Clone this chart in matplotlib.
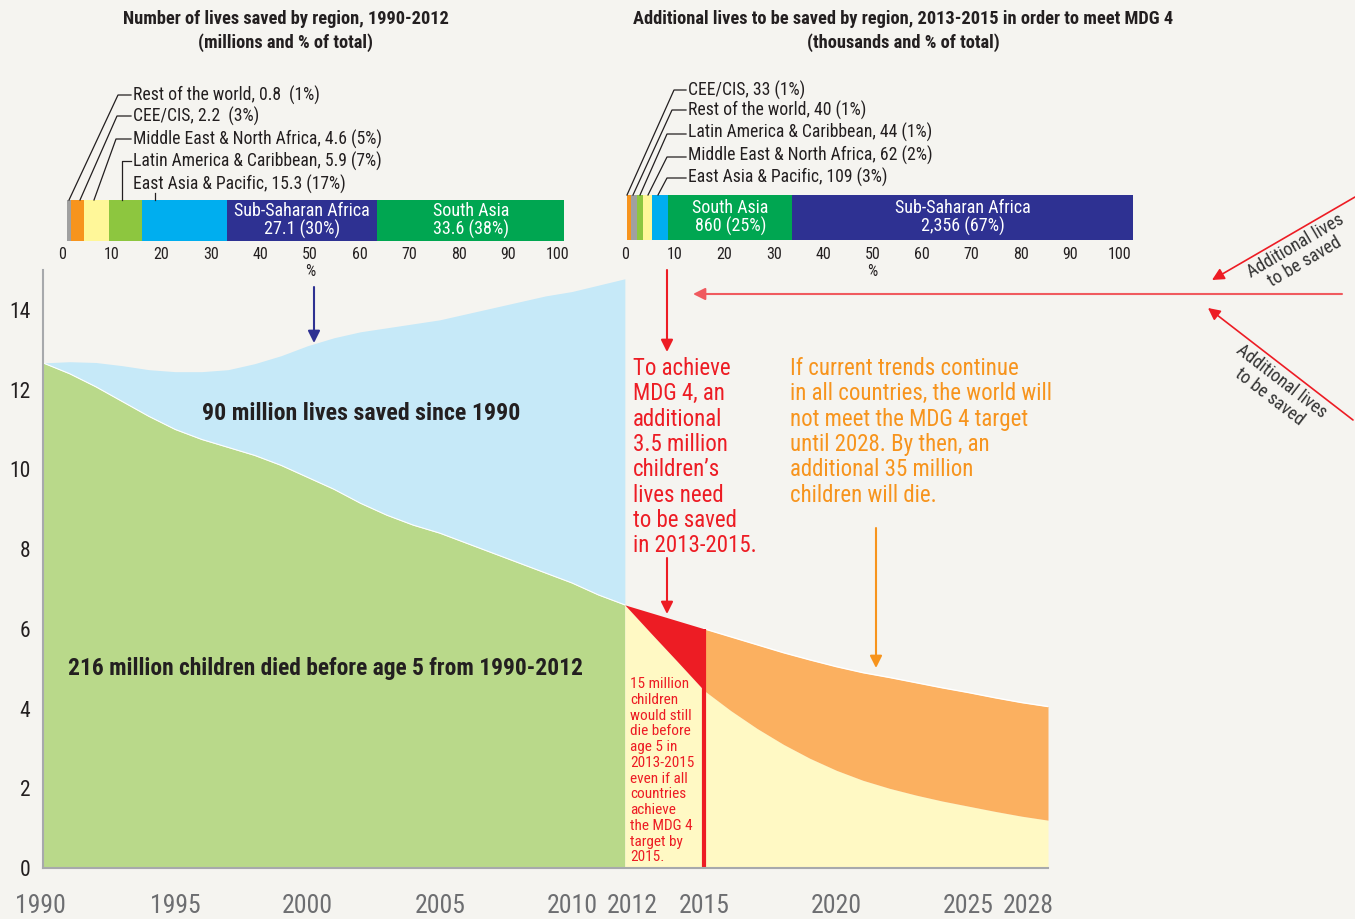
import matplotlib
matplotlib.use('Agg')
import matplotlib.pyplot as plt
from matplotlib import font_manager as fm
from matplotlib.transforms import ScaledTranslation
import numpy as np

# pick a condensed face if one is around, the original uses a condensed grotesque
fonts = fm.fontManager.ttflist
fam_names = {f.name for f in fonts}
family, stretch, fs = 'DejaVu Sans', 'normal', 0.8
for cand in ['Roboto Condensed', 'Liberation Sans Narrow', 'Noto Sans Condensed', 'Open Sans Condensed']:
    if cand in fam_names:
        family, stretch, fs = cand, 'normal', 1.0
        break
else:
    for cand in ['DejaVu Sans', 'Noto Sans', 'Open Sans', 'Roboto']:
        if any(f.name == cand and str(f.stretch) in ('condensed', 'semi-condensed', 'extra-condensed')
               for f in fonts):
            family, stretch, fs = cand, 'condensed', 1.0
            break
plt.rcParams['font.family'] = [family, 'DejaVu Sans']
plt.rcParams['font.stretch'] = stretch

# ---- data ----
years_hist = np.arange(1990, 2013)
deaths_hist = [12.67, 12.4, 12.07, 11.7, 11.33, 11.0, 10.75, 10.55, 10.35, 10.1, 9.8,
               9.5, 9.15, 8.85, 8.6, 8.4, 8.15, 7.9, 7.65, 7.4, 7.15, 6.85, 6.6]
deaths_1990_rates = [12.67, 12.7, 12.68, 12.6, 12.5, 12.45, 12.45, 12.5, 12.65, 12.85, 13.1,
                     13.3, 13.45, 13.55, 13.65, 13.75, 13.9, 14.05, 14.2, 14.35, 14.46, 14.62, 14.78]
years_proj = np.arange(2012, 2029)
trend_proj = [6.6, 6.4, 6.2, 6.0, 5.8, 5.6, 5.4, 5.22, 5.05, 4.9, 4.78, 4.65, 4.52,
              4.4, 4.27, 4.15, 4.05]
mdg4_proj = [6.6, 5.88, 5.17, 4.45, 3.95, 3.5, 3.1, 2.75, 2.45, 2.2, 2.0, 1.83, 1.68,
             1.55, 1.42, 1.3, 1.2]

saved_regions = ['Rest of the world', 'CEE/CIS', 'Middle East & North Africa',
                 'Latin America & Caribbean', 'East Asia & Pacific',
                 'Sub-Saharan Africa', 'South Asia']
saved_millions = [0.8, 2.2, 4.6, 5.9, 15.3, 27.1, 33.6]
saved_pct = [1, 3, 5, 7, 17, 30, 38]

add_regions = ['CEE/CIS', 'Rest of the world', 'Latin America & Caribbean',
               'Middle East & North Africa', 'East Asia & Pacific',
               'South Asia', 'Sub-Saharan Africa']
add_thousands = [33, 40, 44, 62, 109, 860, 2356]
add_pct = [1, 1, 1, 2, 3, 25, 67]

region_colors = {
    'Rest of the world': '#a0a0a0',
    'CEE/CIS': '#f7941d',
    'Middle East & North Africa': '#fff799',
    'Latin America & Caribbean': '#8dc63f',
    'East Asia & Pacific': '#00aeef',
    'Sub-Saharan Africa': '#2e3192',
    'South Asia': '#00a651',
}

BG = '#f5f4f0'
DARK = '#231f20'
RED = '#ed1c24'
ORANGE = '#f7941d'
W, H = 1355, 919

fig = plt.figure(figsize=(W / 100, H / 100), dpi=100, facecolor=BG)


def px_axes(x0, y0, x1, y1):
    # axes rectangle given in pixel coords (top-left origin)
    return fig.add_axes([x0 / W, 1 - y1 / H, (x1 - x0) / W, (y1 - y0) / H])


# ---- main area chart ----
ax = px_axes(43, 270, 1048, 868)
ax.set_facecolor(BG)
yh = np.array(years_hist)
yp = np.array(years_proj)
trend = np.array(trend_proj)
target = np.array(mdg4_proj)

ax.fill_between(yh, 0, deaths_hist, color='#b9d98a', lw=0)
ax.fill_between(yh, deaths_hist, deaths_1990_rates, color='#c6e9f8', lw=0)
ax.plot(yh, deaths_hist, color='white', lw=0.8)
ax.fill_between(yp, 0, target, color='#fff9c4', lw=0)
m1 = yp <= 2015
ax.fill_between(yp[m1], target[m1], trend[m1], color=RED, lw=0)
m2 = yp >= 2015
ax.fill_between(yp[m2], target[m2], trend[m2], color='#fbb060', lw=0)
ax.plot(yp[m2], trend[m2], color='white', lw=1)
ax.vlines(2015, 0, trend[yp == 2015][0], color=RED, lw=3)

ax.set_xlim(1990, 2028)
ax.set_ylim(0, 15)
xt = [1990, 1995, 2000, 2005, 2010, 2012, 2015, 2020, 2025, 2028]
ax.set_xticks(xt)
ax.set_xticklabels([str(v) for v in xt])
ax.set_yticks(range(0, 15, 2))
ax.tick_params(axis='x', length=0, pad=19, labelsize=18.5 * fs, labelcolor='#6d6e71')
ax.tick_params(axis='y', length=0, pad=9, labelsize=15.5 * fs, labelcolor=DARK)
shifts = {1990: -3, 2012: 7, 2028: -20}
for v, lab in zip(xt, ax.get_xticklabels()):
    if v in shifts:
        lab.set_transform(lab.get_transform() + ScaledTranslation(shifts[v] / 100, 0, fig.dpi_scale_trans))
for s in ['top', 'right']:
    ax.spines[s].set_visible(False)
for s in ['left', 'bottom']:
    ax.spines[s].set_color('#a7a9ac')
    ax.spines[s].set_linewidth(1.5)


# ---- stacked 100% bars ----
def region_bar(box, regions, values, labels_in):
    bx = px_axes(*box)
    vals = np.array(values, dtype=float)
    pct = vals / vals.sum() * 100
    starts = np.concatenate([[0], np.cumsum(pct)[:-1]])
    bx.barh(0, pct, left=starts, height=1, color=[region_colors[r] for r in regions], lw=0)
    for r, txt in labels_in.items():
        i = regions.index(r)
        bx.text(starts[i] + pct[i] / 2, 0, txt, ha='center', va='center', color='white',
                fontsize=13 * fs, linespacing=1.05)
    bx.set_xlim(0, 100)
    bx.set_ylim(-0.5, 0.5)
    bx.axis('off')
    return bx


def pct_ticks(x0, x1, y):
    tx = px_axes(x0, y, x1, y + 1)
    tx.set_xlim(0, 100)
    tx.set_xticks(range(0, 101, 10))
    tx.tick_params(axis='x', length=0, pad=0, labelsize=11.5 * fs, labelcolor=DARK)
    tx.set_yticks([])
    for s in tx.spines.values():
        s.set_visible(False)
    tx.patch.set_alpha(0)
    tx.text(50, -17, '%', transform=tx.get_xaxis_transform(), ha='center', va='top',
            fontsize=11.5 * fs, color=DARK)


region_bar((67, 200, 564, 241), saved_regions, saved_millions,
           {'Sub-Saharan Africa': 'Sub-Saharan Africa\n27.1 (30%)',
            'South Asia': 'South Asia\n33.6 (38%)'})
pct_ticks(62.5, 557.5, 246)
region_bar((626.5, 195, 1133, 240), add_regions, add_thousands,
           {'South Asia': 'South Asia\n860 (25%)',
            'Sub-Saharan Africa': 'Sub-Saharan Africa\n2,356 (67%)'})
pct_ticks(625.5, 1120, 246)

# ---- overlay for annotations (pixel coords) ----
ov = fig.add_axes([0, 0, 1, 1])
ov.set_xlim(0, W)
ov.set_ylim(H, 0)
ov.axis('off')
ov.patch.set_alpha(0)

ov.text(286, 31, 'Number of lives saved by region, 1990-2012\n(millions and % of total)',
        ha='center', va='center', fontsize=13.2 * fs, fontweight='bold', color=DARK, linespacing=1.3)
ov.text(903, 31, 'Additional lives to be saved by region, 2013-2015 in order to meet MDG 4\n(thousands and % of total)',
        ha='center', va='center', fontsize=13.2 * fs, fontweight='bold', color=DARK, linespacing=1.3)

# leader labels, left bar
left_leaders = [
    ('Rest of the world, 0.8  (1%)', 95, [(131, 95), (118, 95), (69, 200)]),
    ('CEE/CIS, 2.2  (3%)', 116, [(131, 116), (117, 116), (80, 200)]),
    ('Middle East & North Africa, 4.6 (5%)', 139, [(131, 139), (116, 139), (94, 200)]),
    ('Latin America & Caribbean, 5.9 (7%)', 161, [(131, 161), (122, 161), (122, 200)]),
    ('East Asia & Pacific, 15.3 (17%)', 184, [(155, 193), (155, 200)]),
]
for txt, y, pts in left_leaders:
    ov.text(133, y, txt, ha='left', va='center', fontsize=12.7 * fs, color=DARK)
    xs, ys = zip(*pts)
    ov.plot(xs, ys, color=DARK, lw=0.9)

right_leaders = [
    ('CEE/CIS, 33 (1%)', 90, [(686, 90), (674, 90), (627, 195)]),
    ('Rest of the world, 40 (1%)', 110, [(686, 110), (672, 110), (633, 195)]),
    ('Latin America & Caribbean, 44 (1%)', 132, [(686, 134), (667, 134), (640, 195)]),
    ('Middle East & North Africa, 62 (2%)', 155, [(686, 157), (667, 157), (648, 195)]),
    ('East Asia & Pacific, 109 (3%)', 177, [(686, 178), (667, 178), (658, 195)]),
]
for txt, y, pts in right_leaders:
    ov.text(688, y, txt, ha='left', va='center', fontsize=12.7 * fs, color=DARK)
    xs, ys = zip(*pts)
    ov.plot(xs, ys, color=DARK, lw=0.9)


def arrow(start, tip, color, lw=1.5, ms=18):
    ov.annotate('', xy=tip, xytext=start,
                arrowprops=dict(arrowstyle='-|>', color=color, lw=lw, mutation_scale=ms,
                                shrinkA=0, shrinkB=0))


arrow((314, 287), (314, 343), '#2e3192')
arrow((667, 270), (667, 352), RED)
arrow((1342, 294), (693, 294), '#f05a5f')
arrow((1355, 197), (1212, 280), RED, lw=1.2)
arrow((1353, 420), (1208, 308), RED, lw=1.2)
arrow((667, 558), (667, 614), RED)
arrow((876, 528), (876, 668), ORANGE)

ov.text(1300, 254, 'Additional lives\nto be saved', rotation=30.5, ha='center', va='center',
        fontsize=13 * fs, color='#333333', rotation_mode='anchor', linespacing=1.1)
ov.text(1275, 389, 'Additional lives\nto be saved', rotation=-37.5, ha='center', va='center',
        fontsize=13 * fs, color='#333333', rotation_mode='anchor', linespacing=1.1)

ov.text(361, 414, '90 million lives saved since 1990', ha='center', va='center',
        fontsize=17.2 * fs, fontweight='bold', color=DARK)
ov.text(326, 669, '216 million children died before age 5 from 1990-2012', ha='center',
        va='center', fontsize=16.9 * fs, fontweight='bold', color=DARK)

ov.text(633, 357, 'To achieve\nMDG 4, an\nadditional\n3.5 million\nchildren\u2019s\nlives need\n'
        'to be saved\nin 2013-2015.', ha='left', va='top', fontsize=16.5 * fs, color=RED,
        linespacing=1.13)
ov.text(790, 357, 'If current trends continue\nin all countries, the world will\n'
        'not meet the MDG 4 target\nuntil 2028. By then, an\nadditional 35 million\n'
        'children will die.', ha='left', va='top', fontsize=16.5 * fs, color=ORANGE,
        linespacing=1.13)
ov.text(630, 677, '15 million\nchildren\nwould still\ndie before\nage 5 in\n2013-2015\n'
        'even if all\ncountries\nachieve\nthe MDG 4\ntarget by\n2015.', ha='left', va='top',
        fontsize=11 * fs, color=RED, linespacing=1.16)

fig.savefig('out.png', dpi=100, facecolor=BG)
